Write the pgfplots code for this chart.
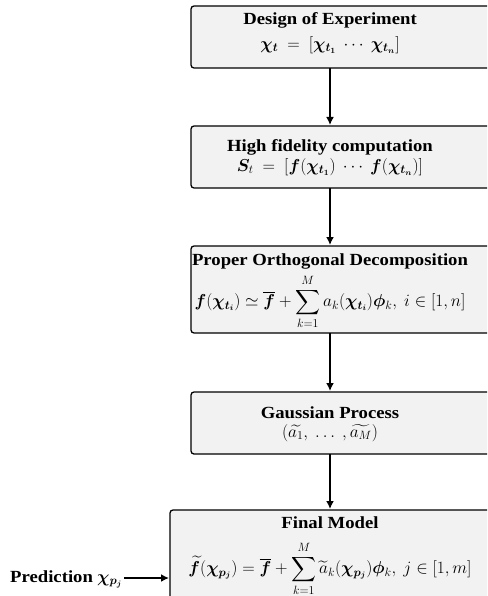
\documentclass[border=0pt]{standalone}
\usepackage{amsmath}
\usepackage{fontspec}
\setmainfont{Liberation Serif}
\usepackage{bm}
\usepackage{graphicx}
\usepackage{pgfplots}
\pgfplotsset{compat=1.18}
\usetikzlibrary{arrows.meta}
\definecolor{boxgray}{HTML}{F2F2F2}
\newcommand{\fs}{\fontsize{17}{20}\selectfont}
\newcommand{\ttl}[1]{\scalebox{1.1}[1]{\textbf{#1}}}
\tikzset{txt/.style={font=\fs, inner sep=0pt}}
\begin{document}
\fs
\begin{tikzpicture}
\begin{axis}[
  anchor=south west, at={(0,0)},
  scale only axis, width=487pt, height=596pt,
  xmin=0, xmax=487, ymin=0, ymax=596, y dir=reverse,
  hide axis, clip=true,
]
% boxes
\addplot[draw=black, fill=boxgray, line width=1.3pt, rounded corners=3pt] coordinates {(330,68) (191,68) (191,6) (530,6) (530,68) (330,68)};
\addplot[draw=black, fill=boxgray, line width=1.3pt, rounded corners=3pt] coordinates {(330,188) (191,188) (191,126) (530,126) (530,188) (330,188)};
\addplot[draw=black, fill=boxgray, line width=1.3pt, rounded corners=3pt] coordinates {(330,333) (191,333) (191,246) (530,246) (530,333) (330,333)};
\addplot[draw=black, fill=boxgray, line width=1.3pt, rounded corners=3pt] coordinates {(330,454) (191,454) (191,392) (530,392) (530,454) (330,454)};
\addplot[draw=black, fill=boxgray, line width=1.3pt, rounded corners=3pt] coordinates {(330,620) (170,620) (170,510) (530,510) (530,620) (330,620)};
% arrows
\addplot[line width=2.2pt, -{Latex[length=8pt,width=8pt]}] coordinates {(330,68) (330,125)};
\addplot[line width=2.2pt, -{Latex[length=8pt,width=8pt]}] coordinates {(330,188) (330,245)};
\addplot[line width=2.2pt, -{Latex[length=8pt,width=8pt]}] coordinates {(330,333) (330,391)};
\addplot[line width=2.2pt, -{Latex[length=8pt,width=8pt]}] coordinates {(330,454) (330,509)};
\addplot[line width=2.2pt, -{Latex[length=8pt,width=8pt]}] coordinates {(124,578) (169,578)};
% texts
\node[txt, anchor=base] at (axis cs:330,25) {\ttl{Design of Experiment}};
\node[txt] at (axis cs:330,45) {$\bm{\chi_t}\ =\ [\bm{\chi_{t_1}}\ \cdots\ \bm{\chi_{t_n}}]$};
\node[txt, anchor=base] at (axis cs:330,152) {\ttl{High fidelity computation}};
\node[txt] at (axis cs:330,167) {$\bm{S}_t\ =\ [\bm{f}(\bm{\chi_{t_1}})\ \cdots\ \bm{f}(\bm{\chi_{t_n}})]$};
\node[txt, anchor=base] at (axis cs:330,265) {\ttl{Proper Orthogonal Decomposition}};
\node[txt] at (axis cs:330,302) {$\displaystyle \bm{f}(\bm{\chi_{t_i}})\simeq\overline{\bm{f}}+\sum_{k=1}^{M}a_k(\bm{\chi_{t_i}})\bm{\phi}_k,\ i\in[1,n]$};
\node[txt, anchor=base] at (axis cs:330,418) {\ttl{Gaussian Process}};
\node[txt] at (axis cs:330,433) {$(\widetilde{a_1},\ \ldots\ ,\widetilde{a_M})$};
\node[txt, anchor=base] at (axis cs:330,528) {\ttl{Final Model}};
\node[txt] at (axis cs:330,569) {$\displaystyle \widetilde{\bm{f}}(\bm{\chi_{p_j}})=\overline{\bm{f}}+\sum_{k=1}^{M}\widetilde{a}_k(\bm{\chi_{p_j}})\bm{\phi}_k,\ j\in[1,m]$};
\node[txt, anchor=base west] at (axis cs:10,582) {\ttl{Prediction} $\bm{\chi_{p_j}}$};
\end{axis}
\pgfresetboundingbox
\path (0,0) rectangle (487pt,596pt);
\end{tikzpicture}
\end{document}
